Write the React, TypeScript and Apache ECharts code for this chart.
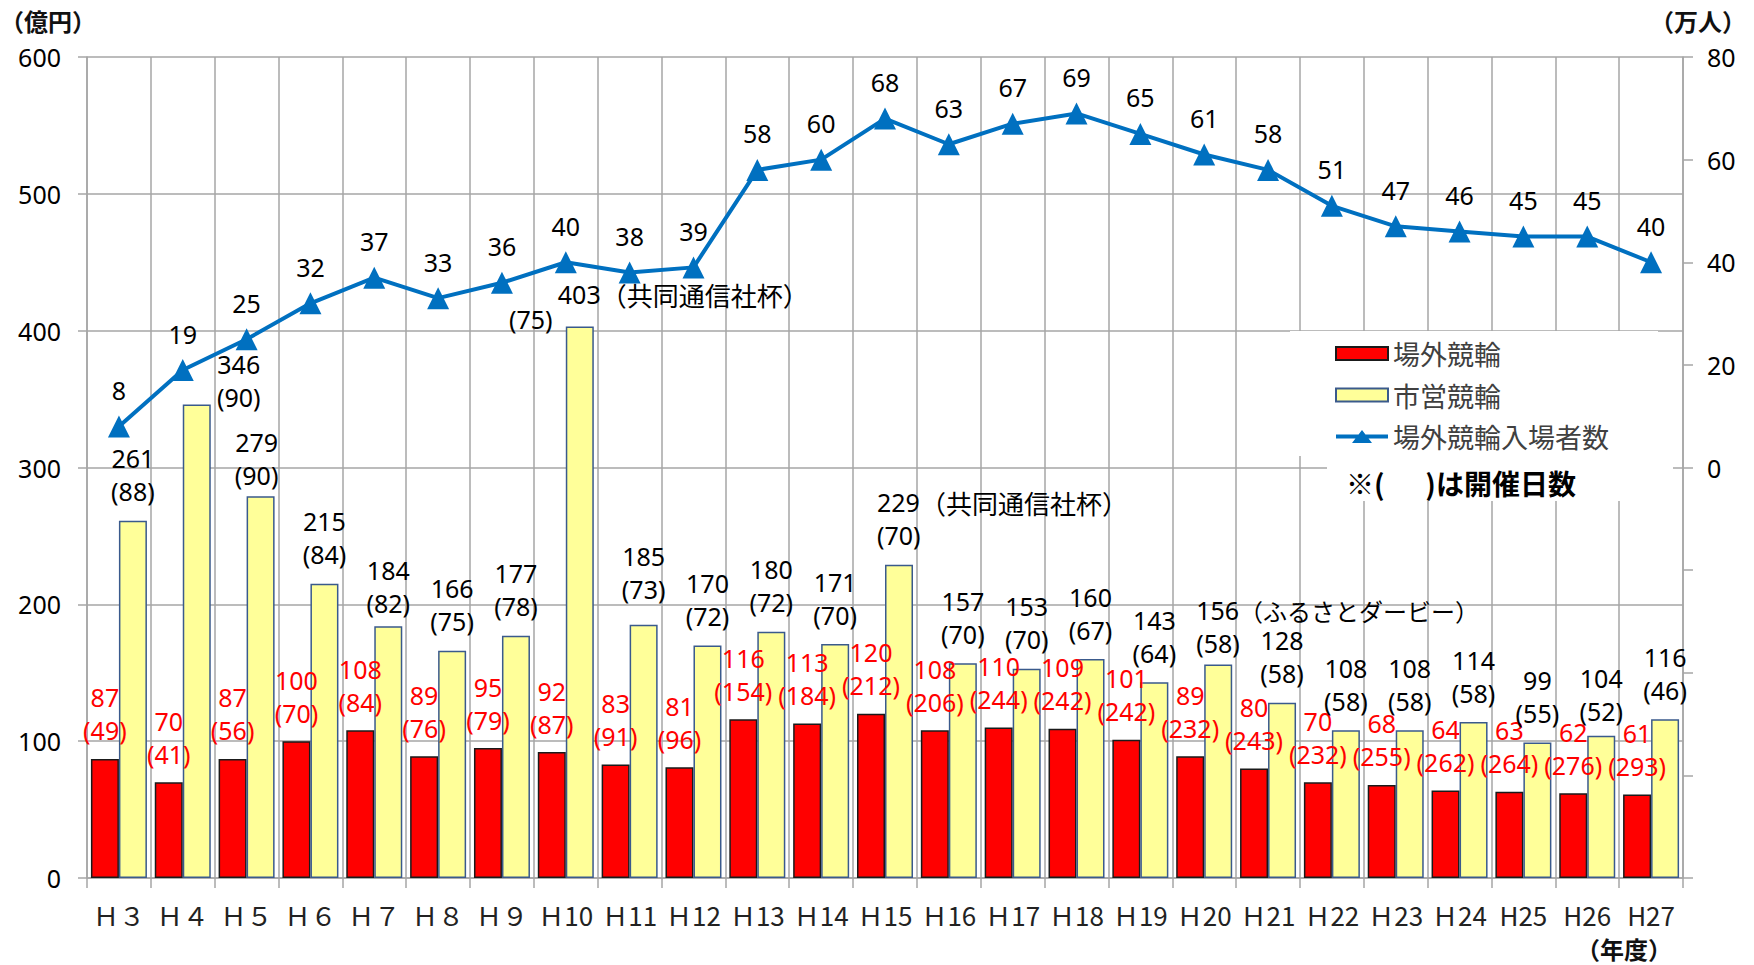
import React, { useEffect, useRef } from "react";
import * as echarts from "echarts";

const categories = [
  "Ｈ３", "Ｈ４", "Ｈ５", "Ｈ６", "Ｈ７", "Ｈ８", "Ｈ９", "Ｈ10", "Ｈ11", "Ｈ12",
  "Ｈ13", "Ｈ14", "Ｈ15", "Ｈ16", "Ｈ17", "Ｈ18", "Ｈ19", "Ｈ20", "Ｈ21", "Ｈ22",
  "Ｈ23", "Ｈ24", "H25", "H26", "H27",
];
const offsiteSales = [87, 70, 87, 100, 108, 89, 95, 92, 83, 81, 116, 113, 120, 108, 110, 109, 101, 89, 80, 70, 68, 64, 63, 62, 61];
const offsiteDays = [49, 41, 56, 70, 84, 76, 79, 87, 91, 96, 154, 184, 212, 206, 244, 242, 242, 232, 243, 232, 255, 262, 264, 276, 293];
const citySales = [261, 346, 279, 215, 184, 166, 177, 403, 185, 170, 180, 171, 229, 157, 153, 160, 143, 156, 128, 108, 108, 114, 99, 104, 116];
const cityDays = [88, 90, 90, 84, 82, 75, 78, 75, 73, 72, 72, 70, 70, 70, 70, 67, 64, 58, 58, 58, 58, 58, 55, 52, 46];
const visitors = [8, 19, 25, 32, 37, 33, 36, 40, 38, 39, 58, 60, 68, 63, 67, 69, 65, 61, 58, 51, 47, 46, 45, 45, 40];
const cityNotes: Record<string, string> = {
  "Ｈ10": "（共同通信社杯）",
  "Ｈ15": "（共同通信社杯）",
  "Ｈ20": "（ふるさとダービー）",
};
const splitLabelCategory = "Ｈ10";
const leftTicks = { min: 0, max: 600, interval: 100 };
const rightTicks = { min: -80, max: 80, interval: 20 };

// layout-only tweaks (label nudges in px, note font sizes)
const cityLabelNudge: Record<string, [number, number]> = {
  "Ｈ４": [42, 22],
  "Ｈ５": [-4, 8],
  "Ｈ７": [0, 6],
  "Ｈ11": [0, -6],
  "Ｈ20": [0, 8],
  "H26": [0, 5],
};
const noteFontSize: Record<string, number> = { "Ｈ10": 26, "Ｈ15": 26, "Ｈ20": 24 };

const FONT = "'Noto Sans', 'Noto Sans CJK JP', sans-serif";
const CJK = "'Noto Sans CJK JP', sans-serif";
const GRID = "#A6A6A6";
const LABEL_SIZE = 25;

export default function App() {
  const ref = useRef<HTMLDivElement>(null);
  useEffect(() => {
    document.body.style.margin = "0";
    const chart = echarts.init(ref.current!, null, { renderer: "svg" });

    const cityData = citySales.map((v, i) => {
      const cat = categories[i];
      const note = cityNotes[cat];
      const nudge = cityLabelNudge[cat] || [0, 0];
      if (!note) {
        if (!cityLabelNudge[cat]) return v;
        return { value: v, label: { offset: nudge } };
      }
      const rich = {
        v: { fontSize: LABEL_SIZE, fontFamily: FONT, color: "#000", lineHeight: 33 },
        n: { fontSize: noteFontSize[cat] || LABEL_SIZE, fontFamily: CJK, color: "#000", lineHeight: 33 },
      };
      if (cat === splitLabelCategory) {
        return {
          value: v,
          label: {
            position: ["50%", 0],
            align: "left",
            verticalAlign: "bottom",
            offset: [-22 + nudge[0], -16 + nudge[1]],
            formatter: `{v|${v}}{n|${note}}`,
            rich,
          },
        };
      }
      return {
        value: v,
        label: {
          position: ["50%", 0],
          align: "left",
          verticalAlign: "bottom",
          offset: [-22 + nudge[0], -13 + nudge[1]],
          formatter: `{v|${v}}{n|${note}}\n{v|(${cityDays[i]})}`,
          rich,
        },
      };
    });
    const splitIdx = categories.indexOf(splitLabelCategory);

    const legendLineIcon = "path://M0,4.5 L52,4.5 L52,8.5 L0,8.5 Z M16,13 L26,0 L36,13 Z";

    const option: any = {
      animation: false,
      textStyle: { fontFamily: FONT },
      grid: { left: 87, right: 71, top: 57, bottom: 87, containLabel: false },
      legend: {
        orient: "vertical",
        left: 1330,
        top: 334,
        itemWidth: 52,
        itemHeight: 13,
        itemGap: 12.5,
        z: 6,
        textStyle: { fontSize: 27, color: "#404040", lineHeight: 29, fontFamily: CJK },
        data: [
          { name: "場外競輪", icon: "rect" },
          { name: "市営競輪", icon: "rect" },
          { name: "場外競輪入場者数", icon: legendLineIcon },
        ],
      },
      graphic: [
        { type: "rect", z: 3, shape: { x: 1290, y: 331, width: 368, height: 125 }, style: { fill: "#fff" } },
        { type: "rect", z: 3, shape: { x: 1327, y: 456, width: 346, height: 45 }, style: { fill: "#fff" } },
        {
          type: "text", z: 5, x: 1346, y: 483,
          style: { text: "※(　  )は開催日数", font: `bold 28px ${CJK}`, fill: "#000", verticalAlign: "middle" },
        },
        { type: "text", x: 0, y: 20, style: { text: "（億円）", font: `bold 24px ${CJK}`, fill: "#111", verticalAlign: "middle" } },
        { type: "text", x: 1650, y: 20, style: { text: "（万人）", font: `bold 24px ${CJK}`, fill: "#111", verticalAlign: "middle" } },
        { type: "text", x: 1576, y: 948, style: { text: "（年度）", font: `bold 24px ${CJK}`, fill: "#111", verticalAlign: "middle" } },
      ],
      xAxis: {
        type: "category",
        data: categories,
        boundaryGap: true,
        axisLine: { onZero: false, lineStyle: { color: GRID, width: 1.5 } },
        axisTick: { show: true, length: 10, lineStyle: { color: GRID, width: 1.5 } },
        axisLabel: { interval: 0, fontSize: 26, color: "#222", margin: 23, fontFamily: CJK },
        splitLine: { show: true, lineStyle: { color: GRID, width: 1.5 } },
      },
      yAxis: [
        {
          type: "value",
          position: "left",
          ...leftTicks,
          axisLine: { show: true, lineStyle: { color: GRID, width: 1.5 } },
          axisTick: { show: true, length: 9, lineStyle: { color: GRID, width: 1.5 } },
          axisLabel: { fontSize: 25, color: "#000", margin: 26 },
          splitLine: { show: true, lineStyle: { color: GRID, width: 1.5 } },
        },
        {
          type: "value",
          position: "right",
          ...rightTicks,
          axisLine: { show: true, lineStyle: { color: GRID, width: 1.5 } },
          axisTick: { show: true, length: 10, lineStyle: { color: GRID, width: 1.5 } },
          axisLabel: {
            fontSize: 25,
            color: "#000",
            margin: 24,
            formatter: (v: number) => (v >= 0 ? String(v) : ""),
          },
          splitLine: { show: false },
        },
      ],
      series: [
        {
          name: "場外競輪",
          type: "bar",
          data: offsiteSales,
          barWidth: 28,
          barGap: "0%",
          itemStyle: { color: "#FF0000", borderColor: "#1a1a1a", borderWidth: 1.5 },
          label: {
            show: true,
            position: "top",
            distance: 12,
            color: "#FF0000",
            fontSize: LABEL_SIZE,
            lineHeight: 33,
            formatter: (p: any) => `${p.value}\n(${offsiteDays[p.dataIndex]})`,
          },
        },
        {
          name: "市営競輪",
          type: "bar",
          data: cityData,
          barWidth: 28,
          barGap: "0%",
          itemStyle: { color: "#FFFF99", borderColor: "#3A5A8C", borderWidth: 1.5 },
          label: {
            show: true,
            position: "top",
            distance: 13,
            color: "#000",
            fontSize: LABEL_SIZE,
            lineHeight: 33,
            formatter: (p: any) => `${citySales[p.dataIndex]}\n(${cityDays[p.dataIndex]})`,
          },
          markPoint: {
            symbol: "circle",
            symbolSize: 0,
            itemStyle: { color: "rgba(0,0,0,0)" },
            data: [
              {
                coord: [categories[splitIdx], citySales[splitIdx]],
                label: {
                  show: true,
                  position: "inside",
                  formatter: `(${cityDays[splitIdx]})`,
                  color: "#000",
                  fontSize: LABEL_SIZE,
                  offset: [-49, -8],
                },
              },
            ],
          },
        },
        {
          name: "場外競輪入場者数",
          type: "line",
          yAxisIndex: 1,
          data: visitors,
          z: 5,
          symbol: "triangle",
          symbolSize: 22,
          lineStyle: { color: "#0070C0", width: 4 },
          itemStyle: { color: "#0070C0" },
          label: { show: true, position: "top", distance: 13, color: "#000", fontSize: LABEL_SIZE },
        },
      ],
    };
    chart.setOption(option);
    return () => chart.dispose();
  }, []);
  return (
    <div
      ref={ref}
      style={{ position: "fixed", left: 0, top: 0, width: 1754, height: 965, background: "#fff" }}
    />
  );
}
